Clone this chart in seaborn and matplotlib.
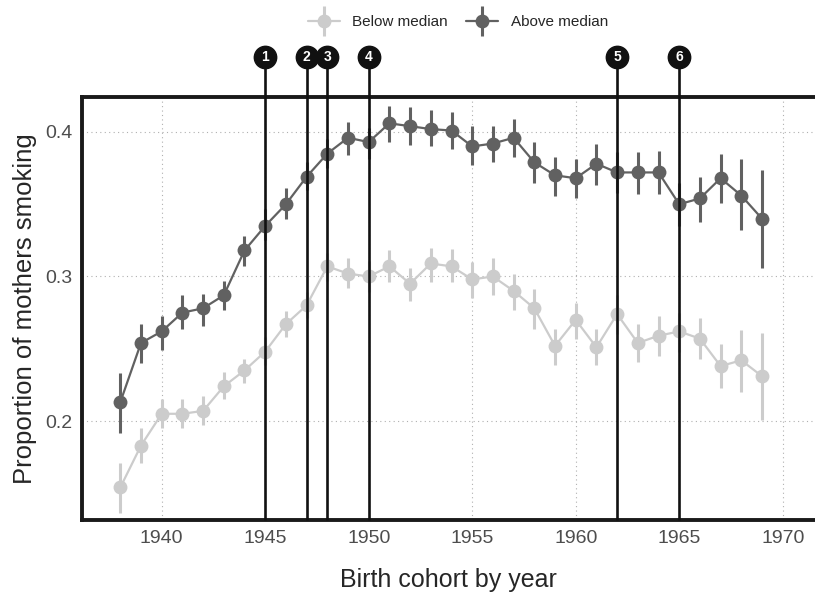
import matplotlib
matplotlib.use("Agg")
import matplotlib.pyplot as plt
import matplotlib.transforms as mtransforms
from matplotlib.lines import Line2D
import numpy as np
import pandas as pd
import seaborn as sns

# Birth cohorts and estimated proportions
years = list(range(1938, 1970))

below_mean = [0.154, 0.183, 0.205, 0.205, 0.207, 0.224, 0.235, 0.248, 0.267, 0.280,
              0.307, 0.302, 0.300, 0.307, 0.295, 0.309, 0.307, 0.298, 0.300, 0.290,
              0.278, 0.252, 0.270, 0.251, 0.274, 0.254, 0.259, 0.262, 0.257, 0.238,
              0.242, 0.231]
below_lo = [0.136, 0.171, 0.195, 0.195, 0.197, 0.215, 0.226, 0.239, 0.258, 0.271,
            0.297, 0.292, 0.289, 0.296, 0.283, 0.296, 0.296, 0.285, 0.287, 0.277,
            0.264, 0.239, 0.257, 0.239, 0.260, 0.241, 0.245, 0.248, 0.243, 0.223,
            0.220, 0.201]
below_hi = [0.171, 0.195, 0.215, 0.215, 0.217, 0.234, 0.243, 0.258, 0.276, 0.289,
            0.316, 0.313, 0.311, 0.318, 0.306, 0.320, 0.319, 0.310, 0.313, 0.302,
            0.291, 0.264, 0.282, 0.264, 0.287, 0.267, 0.273, 0.275, 0.271, 0.253,
            0.263, 0.261]

above_mean = [0.213, 0.254, 0.262, 0.275, 0.278, 0.287, 0.318, 0.335, 0.350, 0.369,
              0.385, 0.396, 0.393, 0.406, 0.404, 0.402, 0.401, 0.390, 0.392, 0.396,
              0.379, 0.370, 0.368, 0.378, 0.372, 0.372, 0.372, 0.350, 0.354, 0.368,
              0.356, 0.340]
above_lo = [0.192, 0.240, 0.249, 0.264, 0.266, 0.277, 0.307, 0.325, 0.340, 0.360,
            0.375, 0.384, 0.381, 0.393, 0.391, 0.390, 0.388, 0.377, 0.379, 0.383,
            0.365, 0.356, 0.354, 0.363, 0.358, 0.357, 0.357, 0.335, 0.338, 0.351,
            0.332, 0.306]
above_hi = [0.233, 0.267, 0.273, 0.287, 0.288, 0.297, 0.328, 0.347, 0.361, 0.379,
            0.395, 0.407, 0.403, 0.418, 0.417, 0.415, 0.414, 0.404, 0.404, 0.409,
            0.393, 0.383, 0.381, 0.392, 0.386, 0.386, 0.387, 0.365, 0.369, 0.385,
            0.381, 0.374]

group_names = ["Below median", "Above median"]
group_colors = {"Below median": "#cccccc", "Above median": "#616161"}

event_years = [1945, 1947, 1948, 1950, 1962, 1965]
event_labels = ["1", "2", "3", "4", "5", "6"]

df = pd.concat([
    pd.DataFrame({"year": years, "prop": below_mean, "lo": below_lo,
                  "hi": below_hi, "group": "Below median"}),
    pd.DataFrame({"year": years, "prop": above_mean, "lo": above_lo,
                  "hi": above_hi, "group": "Above median"}),
])

sns.set_style("white")
plt.rcParams["font.family"] = ["Liberation Sans", "DejaVu Sans"]

fig = plt.figure(figsize=(8.15, 5.94), dpi=100)
ax = fig.add_axes([82 / 815, 1 - 520 / 594, (815 - 82) / 815, 423 / 594])

# lines + points
sns.lineplot(data=df, x="year", y="prop", hue="group", hue_order=group_names,
             palette=group_colors, marker="o", markersize=10, markeredgewidth=0,
             linewidth=1.6, legend=False, ax=ax, zorder=3)

# error bars
for name in group_names:
    sub = df[df["group"] == name]
    ax.vlines(sub["year"], sub["lo"], sub["hi"], color=group_colors[name],
              linewidth=2.2, zorder=3)

ax.set_xlim(1936.15, 1971.56)
ax.set_ylim(0.1315, 0.4242)
ax.set_xticks([1940, 1945, 1950, 1955, 1960, 1965, 1970])
ax.set_yticks([0.2, 0.3, 0.4])
ax.set_yticklabels(["0.2", "0.3", "0.4"])
ax.grid(True, linestyle=(0, (1, 3)), color="#b0b0b0", linewidth=0.8)
ax.set_axisbelow(True)

for side in ["left", "top", "bottom"]:
    ax.spines[side].set_visible(True)
    ax.spines[side].set_color("#1a1a1a")
    ax.spines[side].set_linewidth(2.8)
ax.spines["right"].set_visible(False)

ax.tick_params(axis="both", length=4, width=0.8, color="#555555",
               labelsize=14, labelcolor="#4d4d4d", pad=3)
ax.set_xlabel("Birth cohort by year", fontsize=18, labelpad=15)
ax.set_ylabel("Proportion of mothers smoking", fontsize=18.5, labelpad=6)

# event markers
trans = mtransforms.blended_transform_factory(ax.transData, ax.transAxes)
top_frac = (520 - 57) / 423
ax.vlines(event_years, 0, top_frac, transform=trans, color="#111111",
          linewidth=1.9, clip_on=False, zorder=5)
ax.scatter(event_years, [top_frac] * len(event_years), transform=trans, s=260,
           color="#111111", clip_on=False, zorder=6)
for yr, lab in zip(event_years, event_labels):
    ax.text(yr, top_frac, lab, transform=trans, ha="center", va="center",
            color="white", fontsize=10, fontweight="bold", zorder=7)

# legend
handles = []
for name in group_names:
    c = group_colors[name]
    h1 = Line2D([], [], color=c, marker="o", markersize=10, markeredgewidth=0,
                linewidth=1.6)
    h2 = Line2D([], [], color=c, marker="|", markersize=22, markeredgewidth=2.2,
                linestyle="none")
    handles.append((h1, h2))
fig.legend(handles, group_names, loc="center", bbox_to_anchor=(458 / 815, 1 - 22 / 594),
           ncol=2, frameon=False, fontsize=11, handlelength=2.1, columnspacing=1.2,
           handletextpad=0.8)

fig.savefig("out.png", dpi=100)
